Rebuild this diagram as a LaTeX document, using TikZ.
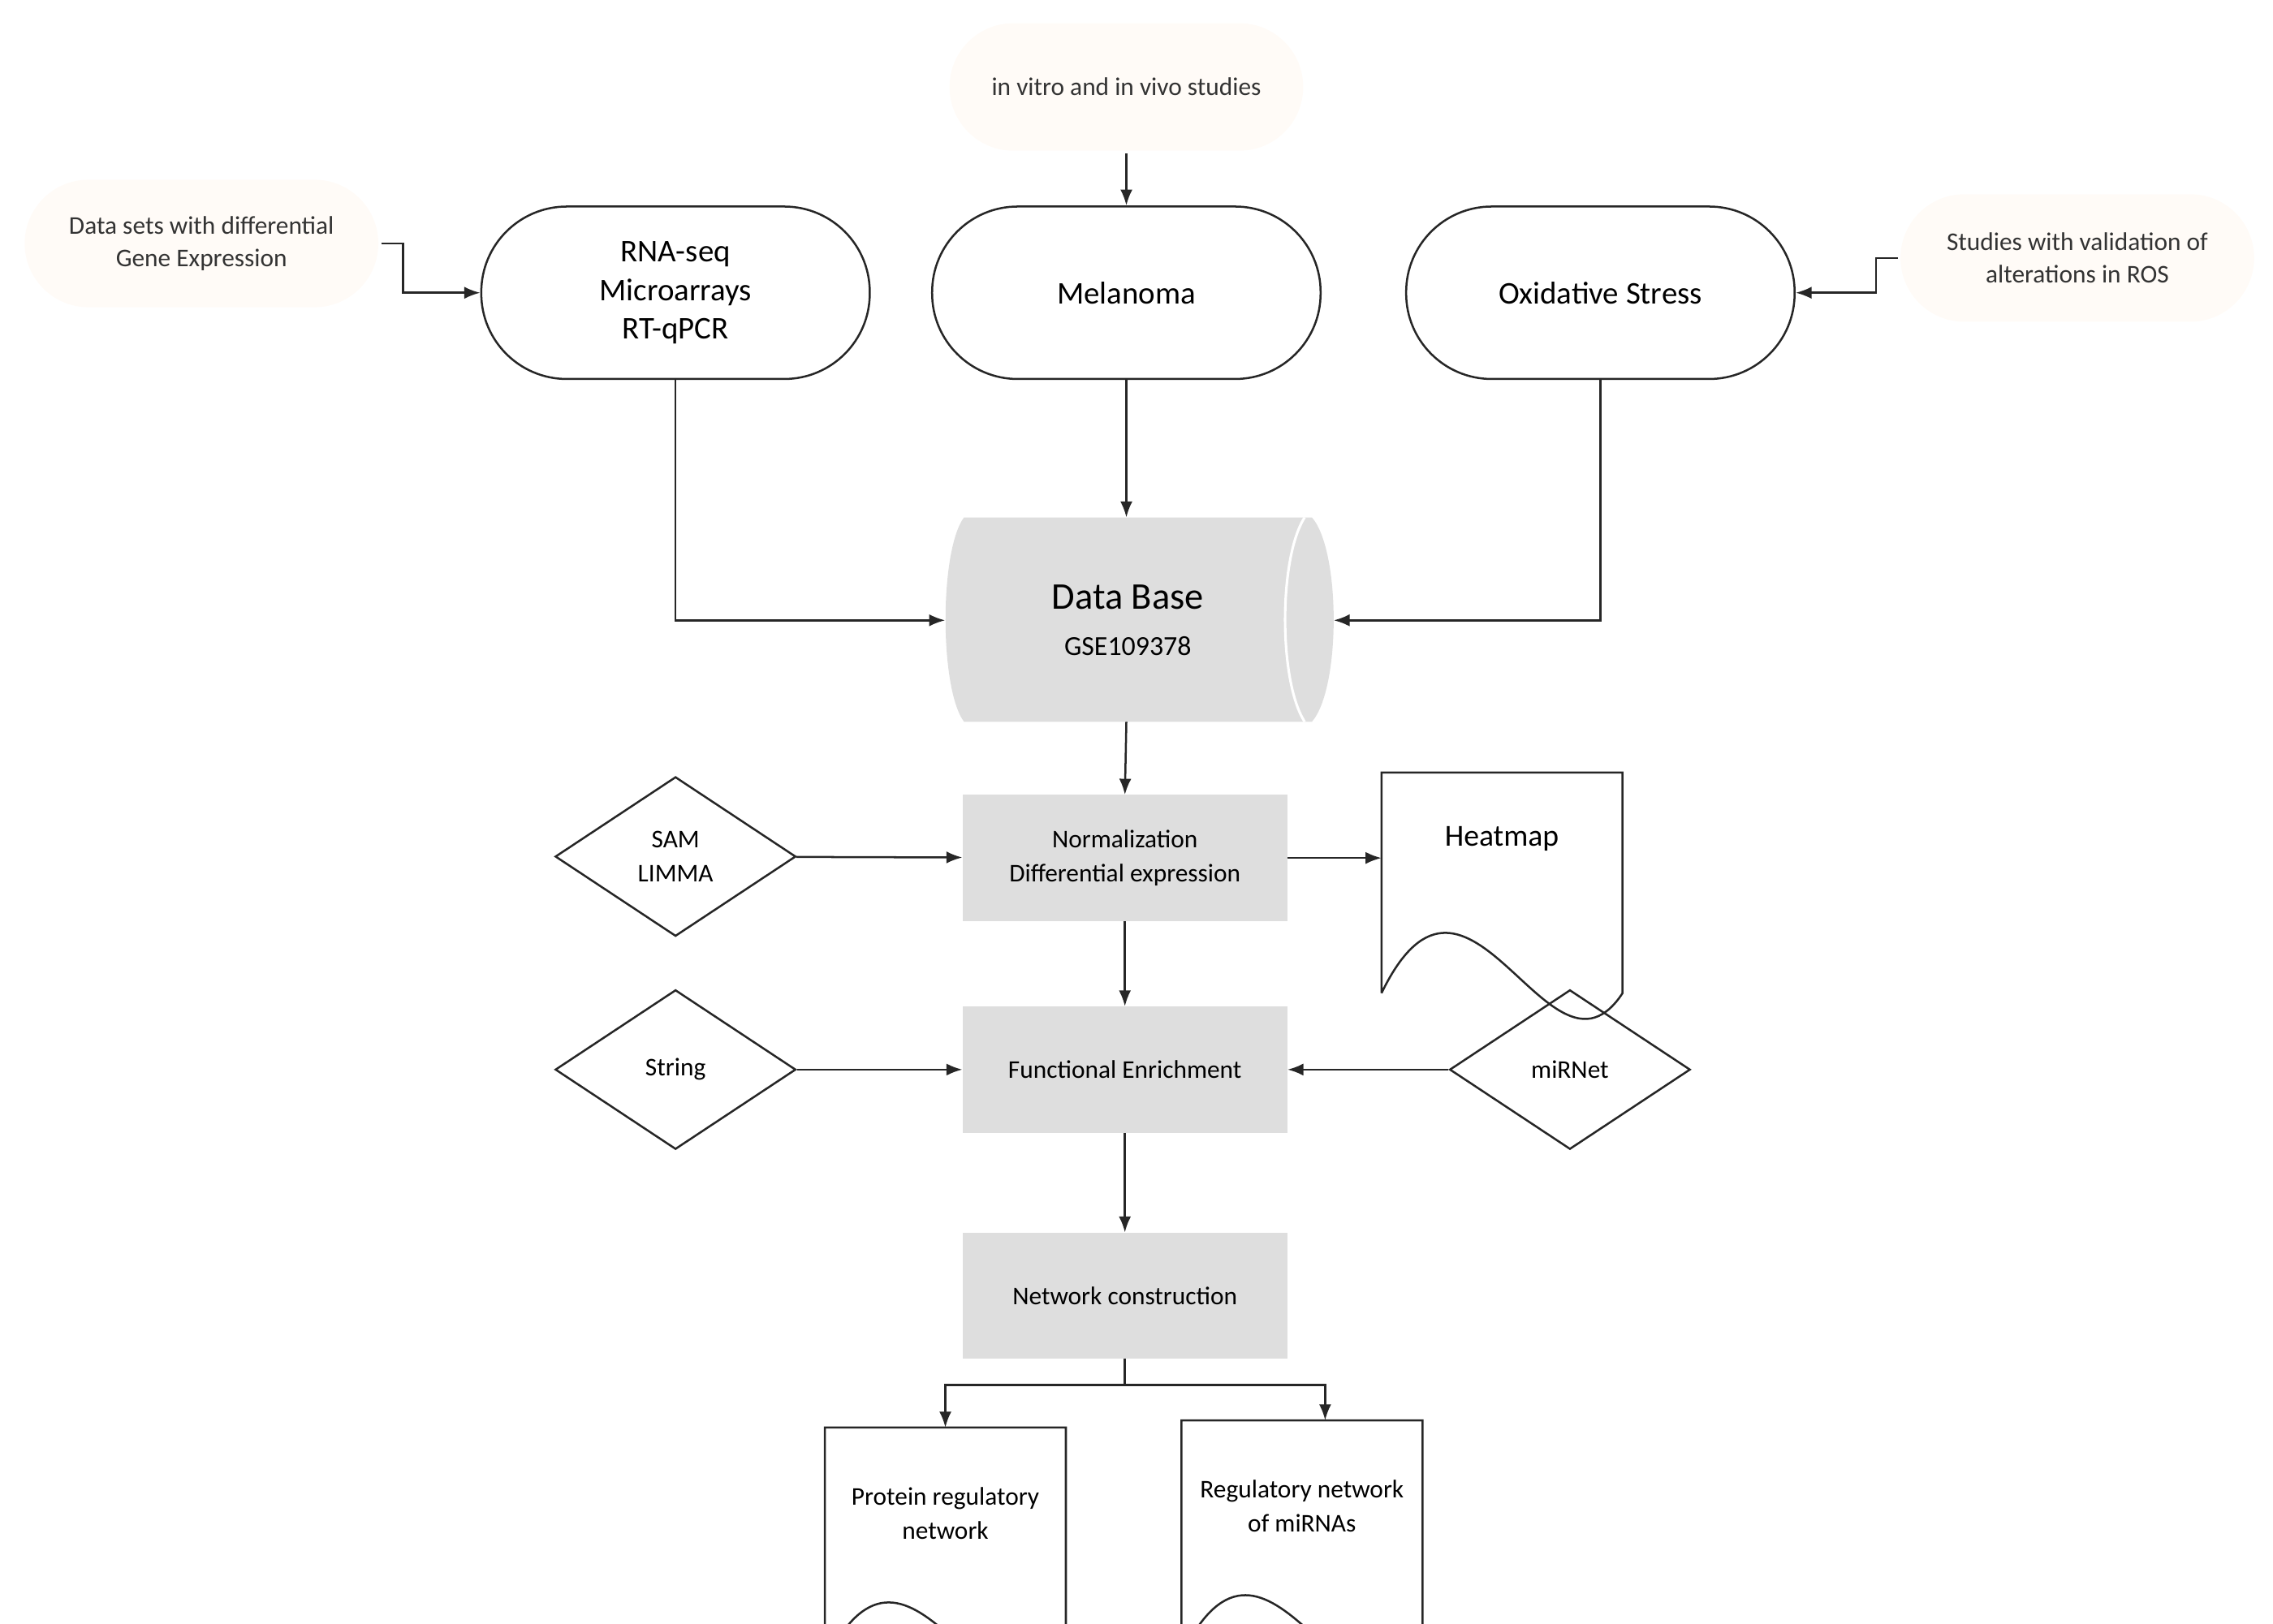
\documentclass[tikz,border=0pt]{standalone}
\usepackage{fontspec}
\setmainfont{Carlito}
\usetikzlibrary{arrows.meta,shapes.geometric}
\colorlet{boxgray}{black!13}
\tikzset{
  base/.style={line width=2pt,draw=black!85},
  pill/.style={base,rectangle,rounded corners=2.95cm,minimum width=13.4cm,minimum height=5.95cm,align=center,font=\fontsize{31}{38}\selectfont},
  source/.style={line width=5.5pt,dash pattern=on 9pt off 5pt,rectangle,rounded corners=2.2cm,
    minimum width=12.2cm,minimum height=4.4cm,fill=orange!3,align=center,font=\fontsize{25}{32}\selectfont,text=black!80},
  stage/.style={rectangle,fill=boxgray,minimum width=11.2cm,minimum height=4.35cm,align=center,font=\fontsize{25}{33}\selectfont},
  tool/.style={base,diamond,inner sep=0pt,minimum width=8.3cm,minimum height=5.5cm,align=center,font=\fontsize{25}{33}\selectfont},
  doc/.style={rectangle,minimum width=8.3cm,minimum height=5.9cm,align=center,font=\fontsize{25}{33}\selectfont},
  link/.style={base,-{Latex[length=0.55cm,width=0.42cm]}},
}
\begin{document}
\begin{tikzpicture}[x=0.05cm,y=-0.05cm]
  \useasboundingbox (0,0) rectangle (1568,1120);

  % sources
  \node[source] (vitro) at (777,60) {in vitro and in vivo studies};
  \node[source] (sets) at (139,168) {Data sets with differential\\Gene Expression};
  \node[source] (valid) at (1433,178) {Studies with validation of\\alterations in ROS};

  % topics
  \node[pill] (rna) at (466,202) {RNA-seq\\Microarrays\\RT-qPCR};
  \node[pill] (mel) at (777,202) {Melanoma};
  \node[pill] (oxi) at (1104,202) {Oxidative Stress};

  % data base
  \fill[boxgray] (665,357) -- (905,357) .. controls (925,380) and (925,475) .. (905,498)
    -- (665,498) .. controls (648,475) and (648,380) .. (665,357) -- cycle;
  \draw[white,line width=2.5pt] (900,357) .. controls (882,385) and (882,470) .. (900,498);
  \node[font=\fontsize{37}{44}\selectfont,align=center] (db) at (778,428)
    {Data Base\\[2pt]{\fontsize{27}{32}\selectfont GSE109378}};
  \coordinate (dbN) at (777,357);
  \coordinate (dbS) at (777,498);
  \coordinate (dbW) at (652,428);
  \coordinate (dbE) at (920,428);

  % analysis
  \node[stage] (norm) at (776,592) {Normalization\\Differential expression};
  \node[stage] (func) at (776,738) {Functional Enrichment};
  \node[stage] (net) at (776,894) {Network construction};
  \node[tool] (sam) at (466,591) {SAM\\LIMMA};
  \node[tool] (str) at (466,738) {String};
  \node[tool] (mir) at (1083,738) {miRNet};

  % documents
  \node[doc,anchor=north west,minimum height=5.4cm] (heat) at (953,533) {};
  \node[font=\fontsize{30}{36}\selectfont] at (1036,579) {Heatmap};
  \node[doc,anchor=north west] (prot) at (569,985) {Protein regulatory\\network};
  \node[doc,anchor=north west] (mirn) at (815,980) {Regulatory network\\of miRNAs};
  \foreach \d in {heat,prot,mirn}{
    \draw[base] ([yshift=-2.2cm]\d.south west) -- (\d.north west) -- (\d.north east)
      -- ([yshift=-2.2cm]\d.south east)
      .. controls ([xshift=-2.5cm,yshift=-6cm]\d.south east) and ([xshift=3cm,yshift=4cm]\d.south west) .. ([yshift=-2.2cm]\d.south west);
  }

  % connectors
  \draw[link] (vitro) -- (mel);
  \draw[link] (sets.east) -- ++(15,0) |- (rna.west);
  \draw[link] (valid.west) -- ++(-15,0) |- (oxi.east);
  \draw[link] (rna.south) |- (dbW);
  \draw[link] (mel.south) -- (dbN);
  \draw[link] (oxi.south) |- (dbE);
  \draw[link] (dbS) -- (norm.north);
  \draw[link] (sam) -- (norm);
  \draw[link] (norm.east) -- (heat.west |- norm.east);
  \draw[link] (norm) -- (func);
  \draw[link] (str) -- (func);
  \draw[link] (mir) -- (func);
  \draw[link] (func) -- (net);
  \draw[link] (net.south) -- ++(0,18) -| (prot.north);
  \draw[link] (net.south) -- ++(0,18) -| ([xshift=0.8cm]mirn.north);
\end{tikzpicture}
\end{document}
